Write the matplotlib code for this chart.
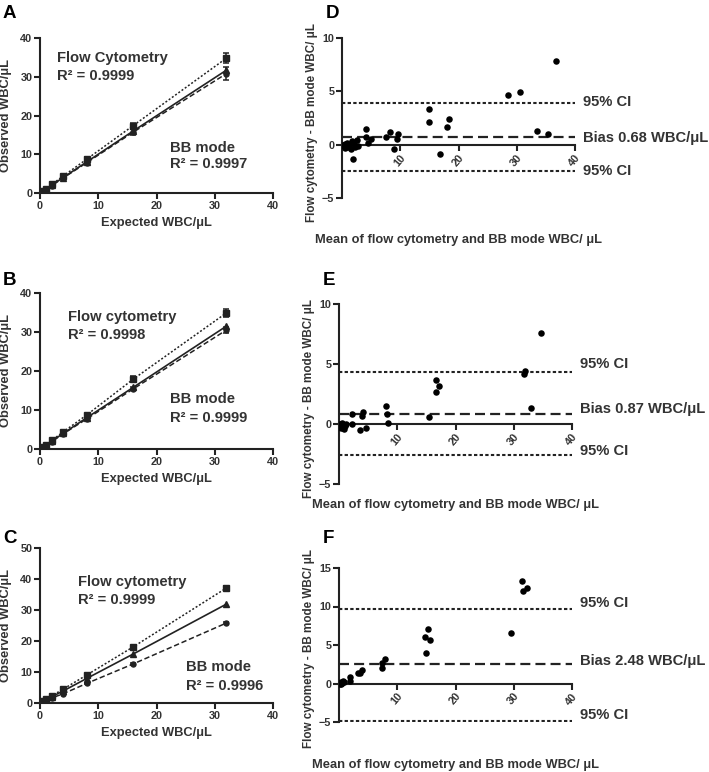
import matplotlib
matplotlib.use("Agg")
import matplotlib.pyplot as plt

plt.rcParams['font.family'] = ['Liberation Sans', 'DejaVu Sans']
plt.rcParams['font.weight'] = 'bold'

# ---------------- data ----------------
expected = [0, 0.25, 0.5, 1, 2, 4, 8, 16, 32]

A_flow = [0, 0.27, 0.55, 1.1, 2.2, 4.4, 8.7, 17.4, 34.8]
A_flow_err = [0, 0, 0, 0, 0, 0.2, 0.5, 0.7, 1.3]
A_ideal = [0, 0.25, 0.5, 1.0, 2.0, 4.0, 8.0, 16.0, 31.7]
A_bb = [0, 0.24, 0.48, 0.97, 1.9, 3.9, 7.8, 15.7, 30.8]
A_bb_err = [0, 0, 0, 0, 0, 0.2, 0.4, 0.8, 1.6]

B_flow = [0, 0.27, 0.55, 1.1, 2.2, 4.4, 8.7, 17.9, 34.9]
B_flow_err = [0, 0, 0, 0, 0, 0.2, 0.4, 0.7, 1.1]
B_ideal = [0, 0.25, 0.5, 1.0, 2.0, 4.0, 8.0, 15.8, 31.5]
B_bb = [0, 0.24, 0.48, 0.96, 1.9, 3.9, 7.7, 15.4, 30.5]
B_bb_err = [0, 0, 0, 0, 0, 0.1, 0.3, 0.4, 0.7]

C_flow = [0, 0.29, 0.58, 1.15, 2.3, 4.5, 9.0, 18.1, 37.1]
C_flow_err = [0, 0, 0, 0, 0, 0.3, 0.4, 0.4, 0.8]
C_ideal = [0, 0.25, 0.5, 1.0, 2.0, 3.9, 7.9, 15.8, 31.9]
C_bb = [0, 0.2, 0.4, 0.8, 1.6, 3.0, 6.3, 12.6, 25.8]
C_bb_err = [0, 0, 0, 0, 0, 0.1, 0.2, 0.2, 0.3]

r2_flow = ["0.9999", "0.9998", "0.9999"]
r2_bb = ["0.9997", "0.9999", "0.9996"]
flow_titles = ["Flow Cytometry", "Flow cytometry", "Flow cytometry"]

D_mean = [0.2, 0.3, 0.5, 0.6, 0.8, 1.0, 1.2, 1.5, 1.8, 1.9, 2.0, 2.3, 2.5, 2.8,
          4.1, 4.1, 4.5, 4.9, 7.6, 8.2, 9.0, 9.4, 9.6, 15.0, 15.0, 16.9, 18.1,
          18.4, 28.5, 30.6, 33.4, 35.3, 36.8]
D_diff = [0.0, -0.1, 0.1, -0.3, 0.2, -0.2, 0.0, -0.4, 0.3, -1.3, 0.1, -0.2, 0.4,
          -0.1, 1.5, 0.75, 0.16, 0.55, 0.75, 1.2, -0.4, 0.55, 1.04, 3.3, 2.1,
          -0.9, 1.7, 2.4, 4.7, 4.9, 1.3, 1.0, 7.8]
D_bias, D_lo, D_hi = 0.68, -2.5, 3.9

E_mean = [0.1, 0.2, 0.3, 0.5, 0.6, 0.8, 1.0, 1.2, 2.2, 2.2, 3.6, 3.9, 4.2, 4.6,
          8.0, 8.2, 8.4, 15.5, 16.6, 16.7, 17.2, 31.7, 32.0, 32.9, 34.6]
E_diff = [-0.1, 0.0, -0.3, -0.2, 0.1, -0.4, -0.2, 0.0, 0.8, 0.0, -0.5, 0.7, 1.0,
          -0.3, 1.5, 0.86, 0.08, 0.58, 3.7, 2.7, 3.2, 4.2, 4.4, 1.3, 7.6]
E_bias, E_lo, E_hi = 0.87, -2.6, 4.3

F_mean = [0.1, 0.2, 0.3, 0.4, 0.5, 0.7, 0.9, 1.9, 1.9, 3.3, 3.6, 3.9, 7.4, 7.4,
          7.9, 14.7, 15.0, 15.3, 15.7, 29.5, 31.4, 31.6, 32.3]
F_diff = [0.0, 0.1, 0.0, 0.2, 0.1, 0.3, 0.2, 0.3, 0.9, 1.3, 1.4, 1.7, 2.0, 2.7,
          3.2, 6.0, 3.9, 7.1, 5.7, 6.6, 13.3, 12.0, 12.4]
F_bias, F_lo, F_hi = 2.48, -4.9, 9.7

# ---------------- layout ----------------
W, H = 709, 772
fig = plt.figure(figsize=(W / 100, H / 100), dpi=100)
TXT = '#333333'

def ax_px(x0, top, x1, bottom):
    return fig.add_axes([x0 / W, 1 - bottom / H, (x1 - x0) / W, (bottom - top) / H])

def ftext(x, y, s, **kw):
    kw.setdefault('color', TXT)
    kw.setdefault('fontweight', 'bold')
    return fig.text(x / W, 1 - y / H, s, **kw)

LW = 1.5
TICK_FS = 7.8
LAB_FS = 9.3
RLAB_FS = 8.4
BIG_FS = 10.6
LET_FS = 13.5

def style(ax):
    for s in ['top', 'right']:
        ax.spines[s].set_visible(False)
    for s in ['left', 'bottom']:
        ax.spines[s].set_linewidth(LW)
        ax.spines[s].set_color('#222222')
    ax.tick_params(direction='out', width=LW, length=4, labelsize=TICK_FS, pad=1.5,
                   color='#222222', labelcolor=TXT)
    for lab in ax.get_xticklabels() + ax.get_yticklabels():
        lab.set_fontweight('bold')

left_boxes = [(40, 38, 273, 193), (40, 293, 273, 449), (40, 548, 273, 703)]
lin_sets = [
    (A_flow, A_flow_err, A_ideal, A_bb, A_bb_err, 40),
    (B_flow, B_flow_err, B_ideal, B_bb, B_bb_err, 40),
    (C_flow, C_flow_err, C_ideal, C_bb, C_bb_err, 50),
]
letters_left = ["A", "B", "C"]
letter_base_left = [18, 285, 543]
flow_xy = [(57, 62, 80), (68, 321, 339), (78, 586, 604)]
bb_xy = [(170, 152, 168), (170, 403, 422), (186, 671, 690)]

for i, (box, data) in enumerate(zip(left_boxes, lin_sets)):
    flow, ferr, ideal, bb, berr, ymax = data
    ax = ax_px(*box)
    ax.errorbar(expected, flow, yerr=ferr, color='#222222', lw=1.1,
                ls=(0, (1.3, 1.3)), marker='s', ms=4, capsize=2.2, elinewidth=1.1,
                capthick=1.1)
    ax.plot(expected, ideal, color='#222222', lw=1.2, ls='-', marker='^', ms=4)
    ax.errorbar(expected, bb, yerr=berr, color='#222222', lw=1.1,
                ls=(0, (3.5, 1.8)), marker='o', ms=3.6, capsize=2.2, elinewidth=1.1,
                capthick=1.1)
    ax.set_xlim(0, 40)
    ax.set_ylim(0, ymax)
    ax.set_xticks([0, 10, 20, 30, 40])
    ax.set_yticks(list(range(0, ymax + 1, 10)))
    style(ax)
    ftext((box[0] + box[2]) / 2, box[3] + 30, "Expected WBC/\u03bcL",
          fontsize=LAB_FS, ha='center', va='center')
    ftext(6, (box[1] + box[3]) / 2, "Observed WBC/\u03bcL", fontsize=LAB_FS,
          ha='center', va='center', rotation=90)
    fx, fy1, fy2 = flow_xy[i]
    ftext(fx, fy1, flow_titles[i], fontsize=BIG_FS, ha='left', va='baseline')
    ftext(fx, fy2, "R\u00b2 = " + r2_flow[i], fontsize=BIG_FS, ha='left', va='baseline')
    bx, by1, by2 = bb_xy[i]
    ftext(bx, by1, "BB mode", fontsize=BIG_FS, ha='left', va='baseline')
    ftext(bx, by2, "R\u00b2 = " + r2_bb[i], fontsize=BIG_FS, ha='left', va='baseline')
    ftext(3, letter_base_left[i], letters_left[i], fontsize=LET_FS, color='black',
          ha='left', va='baseline')

right_boxes = [(342, 38, 575, 198), (339, 304, 572, 484), (339, 568, 572, 722)]
ba_sets = [
    (D_mean, D_diff, D_bias, D_lo, D_hi, (-5, 10), [-5, 0, 5, 10]),
    (E_mean, E_diff, E_bias, E_lo, E_hi, (-5, 10), [-5, 0, 5, 10]),
    (F_mean, F_diff, F_bias, F_lo, F_hi, (-5, 15), [-5, 0, 5, 10, 15]),
]
letters_right = ["D", "E", "F"]
letter_base_right = [18, 285, 543]
xlabel_y = [240, 505, 765]
ci_off = [(-1, 1, 0), (-8, -5, -4), (-6, -3, -6)]

for i, (box, data) in enumerate(zip(right_boxes, ba_sets)):
    mean, diff, bias, lo, hi, ylim, yt = data
    ax = ax_px(*box)
    ax.scatter(mean, diff, s=22, color='black', zorder=3, linewidths=0)
    ax.axhline(hi, color='#222222', lw=1.5, ls=(0, (1.6, 1.1)))
    ax.axhline(lo, color='#222222', lw=1.5, ls=(0, (1.6, 1.1)))
    ax.axhline(bias, color='#222222', lw=1.6, ls=(0, (4.5, 2.3)))
    ax.set_xlim(0, 40)
    ax.set_ylim(*ylim)
    ax.spines['bottom'].set_position(('data', 0))
    ax.set_xticks([10, 20, 30, 40])
    ax.set_yticks(yt)
    style(ax)
    for lab in ax.get_xticklabels():
        lab.set_rotation(50)
        lab.set_ha('right')
        lab.set_va('top')
        lab.set_rotation_mode('anchor')
    ftext(box[0] - 30, (box[1] + box[3]) / 2 + 4, "Flow cytometry - BB mode WBC/ \u03bcL",
          fontsize=RLAB_FS, ha='center', va='center', rotation=90)
    tr = ax.transData
    def ypix(v):
        return H - tr.transform((0, v))[1]
    o_hi, o_b, o_lo = ci_off[i]
    ftext(box[2] + 8, ypix(hi) + o_hi, "95% CI", fontsize=BIG_FS, ha='left', va='center')
    ftext(box[2] + 8, ypix(lo) + o_lo, "95% CI", fontsize=BIG_FS, ha='left', va='center')
    ftext(box[2] + 8, ypix(bias) + o_b, "Bias %.2f WBC/\u03bcL" % bias,
          fontsize=BIG_FS, ha='left', va='center')
    ftext((box[0] + box[2]) / 2, xlabel_y[i],
          "Mean of flow cytometry and BB mode WBC/ \u03bcL",
          fontsize=LAB_FS, ha='center', va='center')
    ftext(box[0] - 16, letter_base_right[i], letters_right[i], fontsize=LET_FS,
          color='black', ha='left', va='baseline')

fig.savefig("out.png", dpi=100)
